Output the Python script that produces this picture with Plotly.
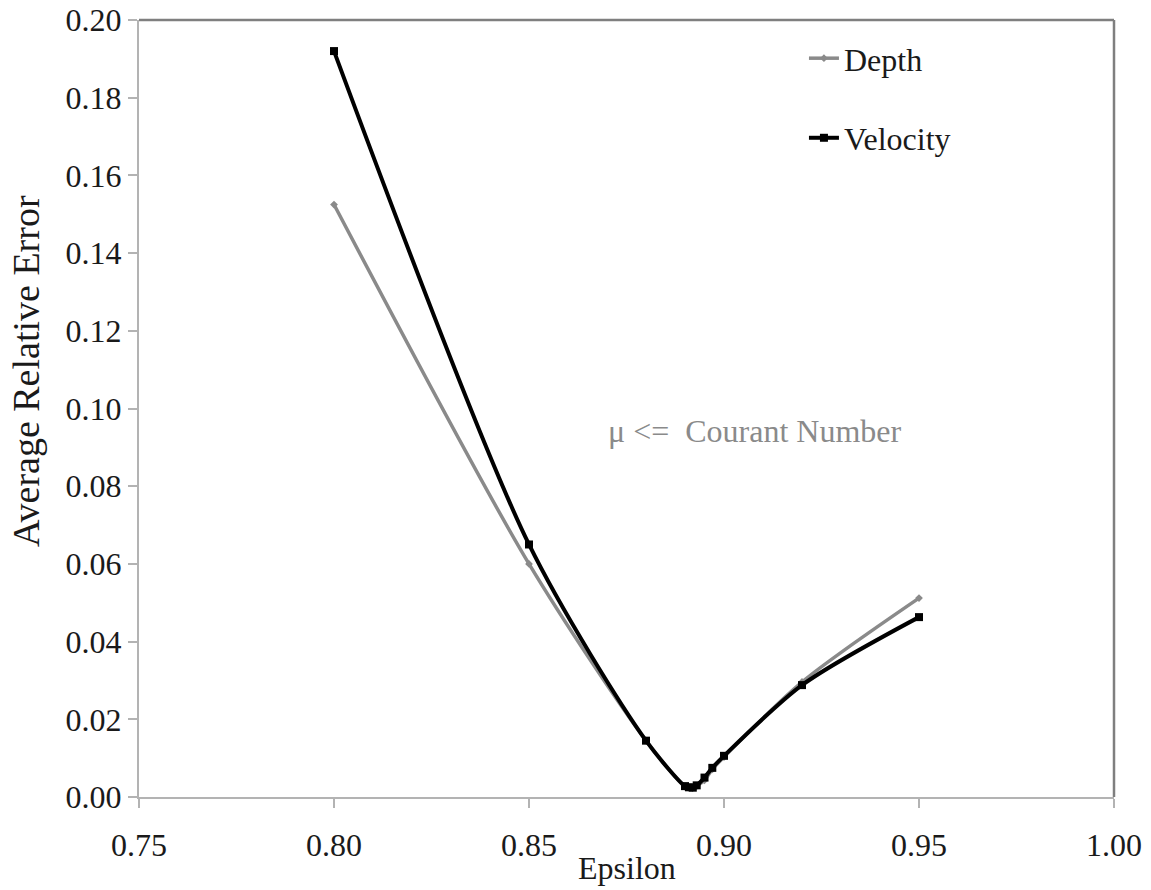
import plotly.graph_objects as go

epsilon = [0.80, 0.85, 0.88, 0.890, 0.891, 0.892, 0.893, 0.895, 0.897, 0.90, 0.92, 0.95]
depth = [0.1525, 0.0600, 0.0145, 0.0027, 0.0024, 0.0023, 0.0028, 0.0043, 0.0071, 0.0103, 0.0296, 0.0512]
velocity = [0.1920, 0.0650, 0.0145, 0.0028, 0.0025, 0.0024, 0.0030, 0.0050, 0.0075, 0.0106, 0.0288, 0.0463]

x_ticks = [0.75, 0.80, 0.85, 0.90, 0.95, 1.00]
y_ticks = [0.00, 0.02, 0.04, 0.06, 0.08, 0.10, 0.12, 0.14, 0.16, 0.18, 0.20]

FONT = "Liberation Serif"
TXT = "#1a1a1a"

fig = go.Figure()
fig.add_trace(go.Scatter(
    x=epsilon, y=depth, name="Depth", mode="lines+markers",
    line=dict(color="#8a8a8a", width=3.5, shape="spline", smoothing=0.8),
    marker=dict(symbol="diamond", size=6, color="#8a8a8a"),
    legendgroup="d",
))
fig.add_trace(go.Scatter(
    x=epsilon, y=velocity, name="Velocity", mode="lines+markers",
    line=dict(color="#000000", width=4, shape="spline", smoothing=0.8),
    marker=dict(symbol="square", size=8, color="#000000"),
    legendgroup="v",
))

fig.add_annotation(
    x=0.908, y=0.0943, xref="x", yref="y", text="\u03bc <=  Courant Number",
    showarrow=False, font=dict(family=FONT, size=32, color="#8a8a8a"),
)
fig.add_annotation(
    x=0.5, y=-0.0914, xref="paper", yref="paper", text="Epsilon",
    showarrow=False, xanchor="center", yanchor="middle",
    font=dict(family=FONT, size=32, color=TXT),
)
fig.add_annotation(
    x=-0.116, y=0.548, xref="paper", yref="paper", text="Average Relative Error",
    showarrow=False, textangle=-90, xanchor="center", yanchor="middle",
    font=dict(family=FONT, size=38, color=TXT),
)

fig.update_layout(
    width=1151, height=890,
    margin=dict(l=139, r=37, t=20, b=93),
    paper_bgcolor="white", plot_bgcolor="white",
    font=dict(family=FONT, size=32, color=TXT),
    showlegend=True,
    legend=dict(
        x=0.682, y=0.986, xanchor="left", yanchor="top",
        traceorder="grouped", tracegroupgap=35,
        font=dict(family=FONT, size=32, color=TXT),
        bgcolor="rgba(0,0,0,0)",
    ),
    shapes=[
        dict(type="line", xref="paper", yref="paper", x0=0, x1=1, y0=1, y1=1,
             line=dict(color="#7f7f7f", width=2.5)),
        dict(type="line", xref="paper", yref="paper", x0=1, x1=1, y0=0, y1=1,
             line=dict(color="#7f7f7f", width=2.5)),
    ],
)

fig.update_xaxes(
    range=[0.75, 1.00], tickvals=x_ticks, ticktext=[f"{v:.2f}" for v in x_ticks],
    showgrid=False, zeroline=False, showline=True, linecolor="#b3b3b3", linewidth=2,
    ticks="outside", ticklen=9, tickcolor="#b3b3b3", tickwidth=2,
    ticklabelstandoff=10,
    tickfont=dict(family=FONT, size=32, color=TXT), automargin=False,
)
fig.update_yaxes(
    range=[0.0, 0.20], tickvals=y_ticks, ticktext=[f"{v:.2f}" for v in y_ticks],
    showgrid=False, zeroline=False, showline=True, linecolor="#b3b3b3", linewidth=2,
    ticks="outside", ticklen=9, tickcolor="#b3b3b3", tickwidth=2,
    tickfont=dict(family=FONT, size=32, color=TXT), automargin=False,
)

fig.write_html("out.html")
